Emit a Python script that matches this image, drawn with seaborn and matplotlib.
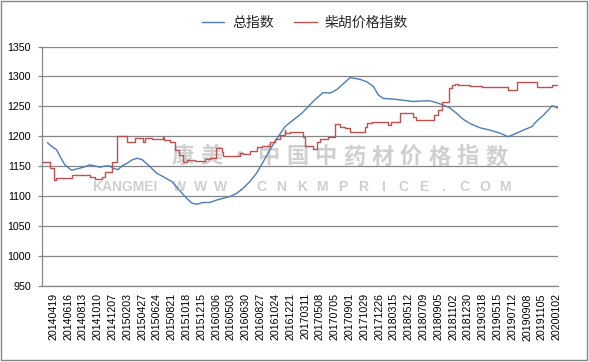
import pandas as pd
import matplotlib
matplotlib.use("Agg")
import matplotlib.pyplot as plt
import seaborn as sns
from matplotlib.patches import Rectangle


TICK_LABELS = [
    "20140419", "20140616", "20140813", "20141010", "20141207", "20150203",
    "20150427", "20150624", "20150821", "20151018", "20151215", "20160306",
    "20160503", "20160630", "20160827", "20161024", "20161221", "20170311",
    "20170508", "20170705", "20170901", "20171029", "20171226", "20180315",
    "20180512", "20180709", "20180905", "20181102", "20181230", "20190318",
    "20190515", "20190712", "20190908", "20191105", "20200102",
]
FIRST_TICK = 30
TICK_STEP = 40
LAST_DAY = 1393

# 总指数 (trading-day index, value)
TOTAL_DAYS = [
    14, 25, 39, 48, 61, 79, 93, 111, 129, 142,
    156, 169, 183, 192, 205, 215, 228, 242, 255, 269,
    282, 296, 309, 327, 350, 363, 377, 390, 404, 417,
    435, 453, 471, 489, 507, 525, 543, 561, 579, 597,
    615, 634, 656, 678, 701, 715, 732, 746, 759, 778,
    796, 814, 832, 859, 877, 895, 908, 922, 949, 976,
    1003, 1030, 1048, 1066, 1084, 1102, 1120, 1138, 1156, 1183,
    1210, 1237, 1259, 1278, 1300, 1323, 1336, 1354, 1368, 1378,
    1393,
]
TOTAL_VALUES = [
    1189, 1183, 1177, 1166, 1152, 1143, 1145, 1148, 1152, 1150,
    1148, 1150, 1150, 1146, 1144, 1150, 1154, 1160, 1163, 1161,
    1154, 1146, 1138, 1132, 1124, 1115, 1105, 1096, 1088, 1086,
    1089, 1089, 1093, 1096, 1099, 1104, 1113, 1124, 1138, 1157,
    1177, 1196, 1216, 1227, 1238, 1247, 1258, 1266, 1273, 1272,
    1278, 1288, 1298, 1295, 1291, 1283, 1269, 1263, 1262, 1260,
    1258, 1259, 1259, 1256, 1252, 1247, 1238, 1228, 1221, 1214,
    1210, 1205, 1199, 1204, 1210, 1216, 1225, 1235, 1244, 1251,
    1247,
]

# 柴胡价格指数 (day where a new level starts, level)
CHAIHU_DAYS = [
    0, 21, 32, 37, 79, 129, 142, 161, 169, 188,
    202, 228, 251, 273, 278, 296, 325, 329, 345, 359,
    370, 381, 390, 413, 440, 453, 469, 485, 488, 534,
    542, 561, 580, 594, 615, 629, 643, 655, 657, 669,
    705, 710, 732, 742, 751, 773, 791, 805, 818, 832,
    872, 878, 891, 935, 942, 967, 1003, 1009, 1059, 1069,
    1079, 1099, 1107, 1115, 1123, 1156, 1188, 1259, 1282, 1336,
    1377, 1393,
]
CHAIHU_VALUES = [
    1157, 1146, 1127, 1130, 1135, 1131, 1128, 1132, 1140, 1157,
    1201, 1191, 1197, 1191, 1197, 1195, 1199, 1194, 1191, 1177,
    1168, 1157, 1160, 1158, 1161, 1164, 1180, 1174, 1166, 1171,
    1170, 1175, 1181, 1184, 1190, 1196, 1202, 1210, 1205, 1207,
    1198, 1184, 1178, 1191, 1195, 1199, 1221, 1216, 1214, 1207,
    1216, 1222, 1224, 1219, 1224, 1238, 1232, 1227, 1235, 1244,
    1257, 1280, 1286, 1287, 1285, 1284, 1282, 1277, 1290, 1282,
    1285, 1285,
]

BLUE = "#4a7ebb"
RED = "#c0504d"
GRID = "#868686"
MARK = "#cfcfcf"

sns.set_style("white")
plt.rcParams["font.family"] = ["Liberation Sans", "Noto Sans CJK SC", "DejaVu Sans"]

fig = plt.figure(figsize=(5.89, 3.62), dpi=100)
ax = fig.add_axes([0.0718, 0.2113, 0.8751, 0.6602])
ax.patch.set_facecolor("none")

# watermark behind the chart
mark_cn = "康美·中国中药材价格指数"
for i, ch in enumerate(mark_cn):
    fig.text((183 + i * 28.5) / 589, 1 - 157 / 362, ch, color=MARK, fontsize=16,
             fontweight="bold", family=["Noto Sans CJK SC"], ha="center",
             va="center", zorder=-1)
fig.text(125 / 589, 1 - 187 / 362, "KANGMEI", color=MARK, fontsize=10,
         fontweight="bold", ha="center", va="center", zorder=-1)
mark_en = "WWW.CNKMPRICE.COM"
for i, ch in enumerate(mark_en):
    fig.text((180 + i * 20.3) / 589, 1 - 187 / 362, ch, color=MARK, fontsize=10,
             fontweight="bold", ha="center", va="center", zorder=-1)

total_df = pd.DataFrame({"day": TOTAL_DAYS, "value": TOTAL_VALUES})
chaihu_df = pd.DataFrame({"day": CHAIHU_DAYS, "value": CHAIHU_VALUES})

sns.lineplot(data=total_df, x="day", y="value", color=BLUE, lw=1.0,
             estimator=None, label="总指数", ax=ax)
sns.lineplot(data=chaihu_df, x="day", y="value", color=RED, lw=1.0,
             estimator=None, drawstyle="steps-post", label="柴胡价格指数", ax=ax)

ax.set_xlim(0, LAST_DAY)
ax.set_ylim(950, 1350)
ax.set_yticks(range(950, 1351, 50))
ax.set_xticks([FIRST_TICK + TICK_STEP * i for i in range(len(TICK_LABELS))])
ax.set_xticklabels(TICK_LABELS, rotation=90)
ax.set_xlabel("")
ax.set_ylabel("")

ax.grid(axis="y", color=GRID, lw=0.9)
ax.grid(axis="x", visible=False)
for side in ["top", "right"]:
    ax.spines[side].set_visible(False)
for side in ["left", "bottom"]:
    ax.spines[side].set_color(GRID)
    ax.spines[side].set_linewidth(0.9)

ax.tick_params(axis="y", left=True, length=3, width=0.9, color=GRID,
               pad=5, labelsize=7.7, labelcolor="black")
ax.tick_params(axis="x", bottom=False, length=0, pad=5.5, labelsize=7.7,
               labelcolor="black")

handles, labels = ax.get_legend_handles_labels()
ax.get_legend().remove()
fig.legend(handles, labels, loc="center", bbox_to_anchor=(0.518, 0.936),
           ncol=2, frameon=False, prop={"family": "Noto Sans CJK SC", "size": 10},
           handlelength=1.6, handletextpad=0.6, columnspacing=1.45)

fig.patches.append(Rectangle((1 / 589, 2 / 362), 586 / 589, 359 / 362,
                             transform=fig.transFigure, fill=False,
                             edgecolor=GRID, lw=1.0))

fig.savefig("out.png", dpi=100)
